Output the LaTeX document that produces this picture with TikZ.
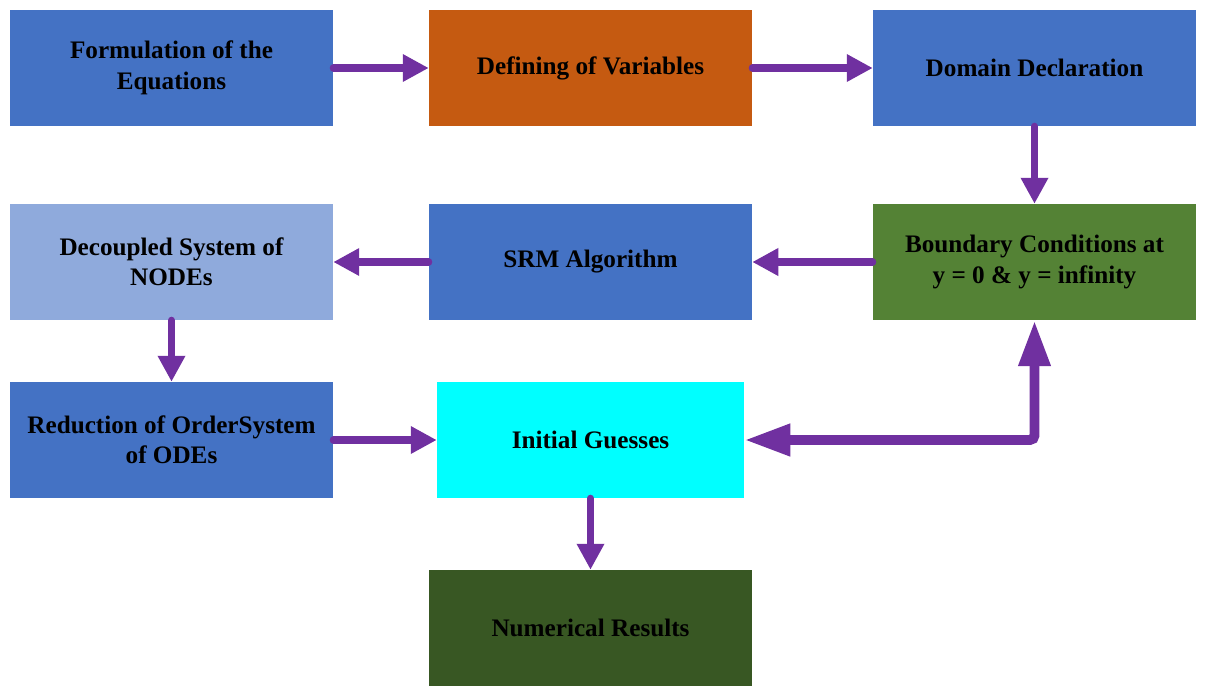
\documentclass[tikz,border=0pt]{standalone}
\usepackage{fontspec}
\setmainfont{Liberation Serif}
\usepackage{xcolor}
\usetikzlibrary{arrows.meta}
\definecolor{midblue}{HTML}{4472C4}
\definecolor{paleblue}{HTML}{8FAADC}
\definecolor{rust}{HTML}{C55A11}
\definecolor{leaf}{HTML}{548235}
\definecolor{forest}{HTML}{385723}
\definecolor{aqua}{HTML}{00FFFF}
\definecolor{violet}{HTML}{7030A0}
\tikzset{
  box/.style={rectangle, inner sep=0pt, minimum width=9.69cm, minimum height=3.48cm,
    align=center, text=black, font=\fontsize{21.5}{26}\selectfont\bfseries},
  flow/.style={draw=violet, line width=6pt, line cap=round,
    -{Triangle[width=0.78cm,length=0.78cm]}},
  bigflow/.style={draw=violet, line width=8.5pt, rounded corners=4pt,
    {Triangle[width=0.9cm,length=1.38cm]}-{Triangle[width=0.9cm,length=1.38cm]}},
}

\begin{document}
\begin{tikzpicture}[x=0.03cm, y=-0.03cm]
  \useasboundingbox (0,0) rectangle (1206,695);
  % first row
  \node[box, fill=midblue] (form) at (171.5,68) {Formulation of the\\Equations};
  \node[box, fill=rust] (vars) at (590.5,68) {Defining of Variables};
  \node[box, fill=midblue] (domain) at (1034.5,68) {Domain Declaration};
  % second row
  \node[box, fill=paleblue] (decoup) at (171.5,262) {Decoupled System of\\NODEs};
  \node[box, fill=midblue] (srm) at (590.5,262) {SRM Algorithm};
  \node[box, fill=leaf] (bc) at (1034.5,262) {Boundary Conditions at\\y = 0 \& y = infinity};
  % third row
  \node[box, fill=midblue] (reduc) at (171.5,440) {Reduction of OrderSystem\\of ODEs};
  \node[box, fill=aqua, minimum width=9.21cm] (guess) at (590.5,440) {Initial Guesses};
  \node[box, fill=forest] (results) at (590.5,628) {Numerical Results};

  \draw[flow] (form) -- (vars);
  \draw[flow] (vars) -- (domain);
  \draw[flow] (domain) -- (bc);
  \draw[flow] (bc) -- (srm);
  \draw[flow] (srm) -- (decoup);
  \draw[flow] (decoup) -- (reduc);
  \draw[flow] (reduc) -- (guess);
  \draw[flow] (guess) -- (results);
  \draw[bigflow] (guess.east) -| (bc.south);
\end{tikzpicture}
\end{document}
